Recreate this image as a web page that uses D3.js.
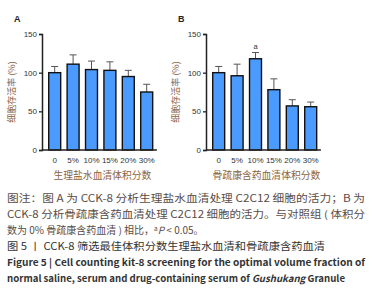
<!DOCTYPE html>
<html><head><meta charset="utf-8">
<script src="https://cdn.jsdelivr.net/npm/d3@7"></script>
<style>body{margin:0;background:#fff}svg{display:block}</style>
</head><body>
<script>
const categories = ["0","5%","10%","15%","20%","30%"];
const valuesA = [100,111,104,103,95,75];
const errA = [108,123,115,114,103,85];
const valuesB = [100,96,118,78,57,56];
const errB = [108,111,126,92,65,62];
const marksB = ["","","a","","",""];
const yTicks = [0,50,100,150];
const yTitle = "细胞存活率 (%)";
const xTitleA = "生理盐水血清体积分数";
const xTitleB = "骨疏康含药血清体积分数";
const captionLines = [
  "图注：图 A 为 CCK-8 分析生理盐水血清处理 C2C12 细胞的活力；B 为",
  "CCK-8 分析骨疏康含药血清处理 C2C12 细胞的活力。与对照组 ( 体积分",
  "数为 0% 骨疏康含药血清 ) 相比，"
];

const W=372,H=300;
const svg=d3.select("body").append("svg").attr("width",W).attr("height",H);
const font="'Noto Sans CJK SC','Noto Sans',sans-serif";

function panel(label, axisX, vals, errs, marks, xTitle){
  const y=d3.scaleLinear().domain([0,150]).range([150,34]);
  const x=d3.scaleBand().domain(categories).range([axisX+3.5,axisX+3.5+6*18.4]).paddingInner(0.35).paddingOuter(0.175);
  const g=svg.append("g");
  g.append("text").attr("x",axisX-28).attr("y",22).text(label)
    .attr("font-family","Arial,'Liberation Sans',sans-serif").attr("font-weight","bold").attr("font-size",9).attr("fill","#222");
  const ya=g.append("g").attr("transform",`translate(${axisX},0)`)
    .call(d3.axisLeft(y).tickValues(yTicks).tickSize(3).tickPadding(2));
  ya.select(".domain").attr("stroke","#222").attr("stroke-width",1.5);
  ya.selectAll(".tick line").attr("stroke","#222").attr("stroke-width",1.3);
  ya.selectAll("text").attr("font-family","Arial,'Liberation Sans',sans-serif").attr("font-size",8).attr("fill","#333");
  categories.forEach((c,i)=>{
    const xc=x(c)+x.bandwidth()/2;
    g.append("line").attr("x1",xc).attr("x2",xc).attr("y1",y(vals[i])).attr("y2",y(errs[i])).attr("stroke","#555").attr("stroke-width",1);
    g.append("line").attr("x1",xc-3.5).attr("x2",xc+3.5).attr("y1",y(errs[i])).attr("y2",y(errs[i])).attr("stroke","#555").attr("stroke-width",1);
    g.append("rect").attr("x",x(c)).attr("y",y(vals[i])).attr("width",x.bandwidth()).attr("height",y(0)-y(vals[i]))
      .attr("fill","#4b9bff").attr("stroke","#111").attr("stroke-width",1.4);
    if(marks[i]) g.append("text").attr("x",xc).attr("y",y(errs[i])-4).attr("text-anchor","middle")
      .attr("font-family","Arial,sans-serif").attr("font-size",7.5).attr("fill","#333").text(marks[i]);
  });
  const xEnd=axisX+3.5+6*18.4+1;
  g.append("line").attr("x1",axisX).attr("x2",xEnd).attr("y1",150).attr("y2",150).attr("stroke","#222").attr("stroke-width",1.5);
  categories.forEach(c=>{
    g.append("text").attr("x",x(c)+x.bandwidth()/2).attr("y",163).attr("text-anchor","middle")
     .attr("font-family","Arial,'Liberation Sans',sans-serif").attr("font-size",8).attr("fill","#333").text(c);
  });
  g.append("text").attr("x",(axisX+xEnd)/2+3).attr("y",179).attr("text-anchor","middle")
    .attr("font-family",font).attr("font-size",9.8).attr("fill","#8a6444").text(xTitle);
  g.append("text").attr("transform",`translate(${axisX-27},92) rotate(-90)`).attr("text-anchor","middle")
    .attr("font-family",font).attr("font-size",9).attr("fill","#8a6444").text(yTitle);
}
panel("A",42,valuesA,errA,["","","","","",""],xTitleA);
panel("B",206,valuesB,errB,marksB,xTitleB);

const cap=svg.append("g").attr("font-family",font).attr("font-size",10);
cap.append("text").attr("x",7).attr("y",202).attr("fill","#5a4c46").attr("textLength",358).attr("lengthAdjust","spacingAndGlyphs").text(captionLines[0]);
cap.append("text").attr("x",7).attr("y",218).attr("fill","#5a4c46").attr("textLength",358).attr("lengthAdjust","spacingAndGlyphs").text(captionLines[1]);
const l3=cap.append("text").attr("x",7).attr("y",234).attr("fill","#5a4c46");
l3.append("tspan").text(captionLines[2]);
l3.append("tspan").attr("font-size",6.5).attr("dy",-3).text("a");
l3.append("tspan").attr("dy",3).attr("font-style","italic").text("P");
l3.append("tspan").text(" < 0.05。");
cap.append("text").attr("x",7).attr("y",250).attr("fill","#333").attr("textLength",318).attr("lengthAdjust","spacingAndGlyphs")
  .text("图 5 丨 CCK-8 筛选最佳体积分数生理盐水血清和骨疏康含药血清");
cap.append("text").attr("x",7).attr("y",266).attr("fill","#333").attr("font-size",9.5).attr("font-weight","bold").attr("textLength",358).attr("lengthAdjust","spacingAndGlyphs")
  .text("Figure 5 | Cell counting kit-8 screening for the optimal volume fraction of");
const l6=cap.append("text").attr("x",7).attr("y",282).attr("fill","#333").attr("font-size",9.5).attr("font-weight","bold").attr("textLength",338).attr("lengthAdjust","spacingAndGlyphs");
l6.append("tspan").text("normal saline, serum and drug-containing serum of ");
l6.append("tspan").attr("font-style","italic").text("Gushukang");
l6.append("tspan").text(" Granule");
</script>
</body></html>
